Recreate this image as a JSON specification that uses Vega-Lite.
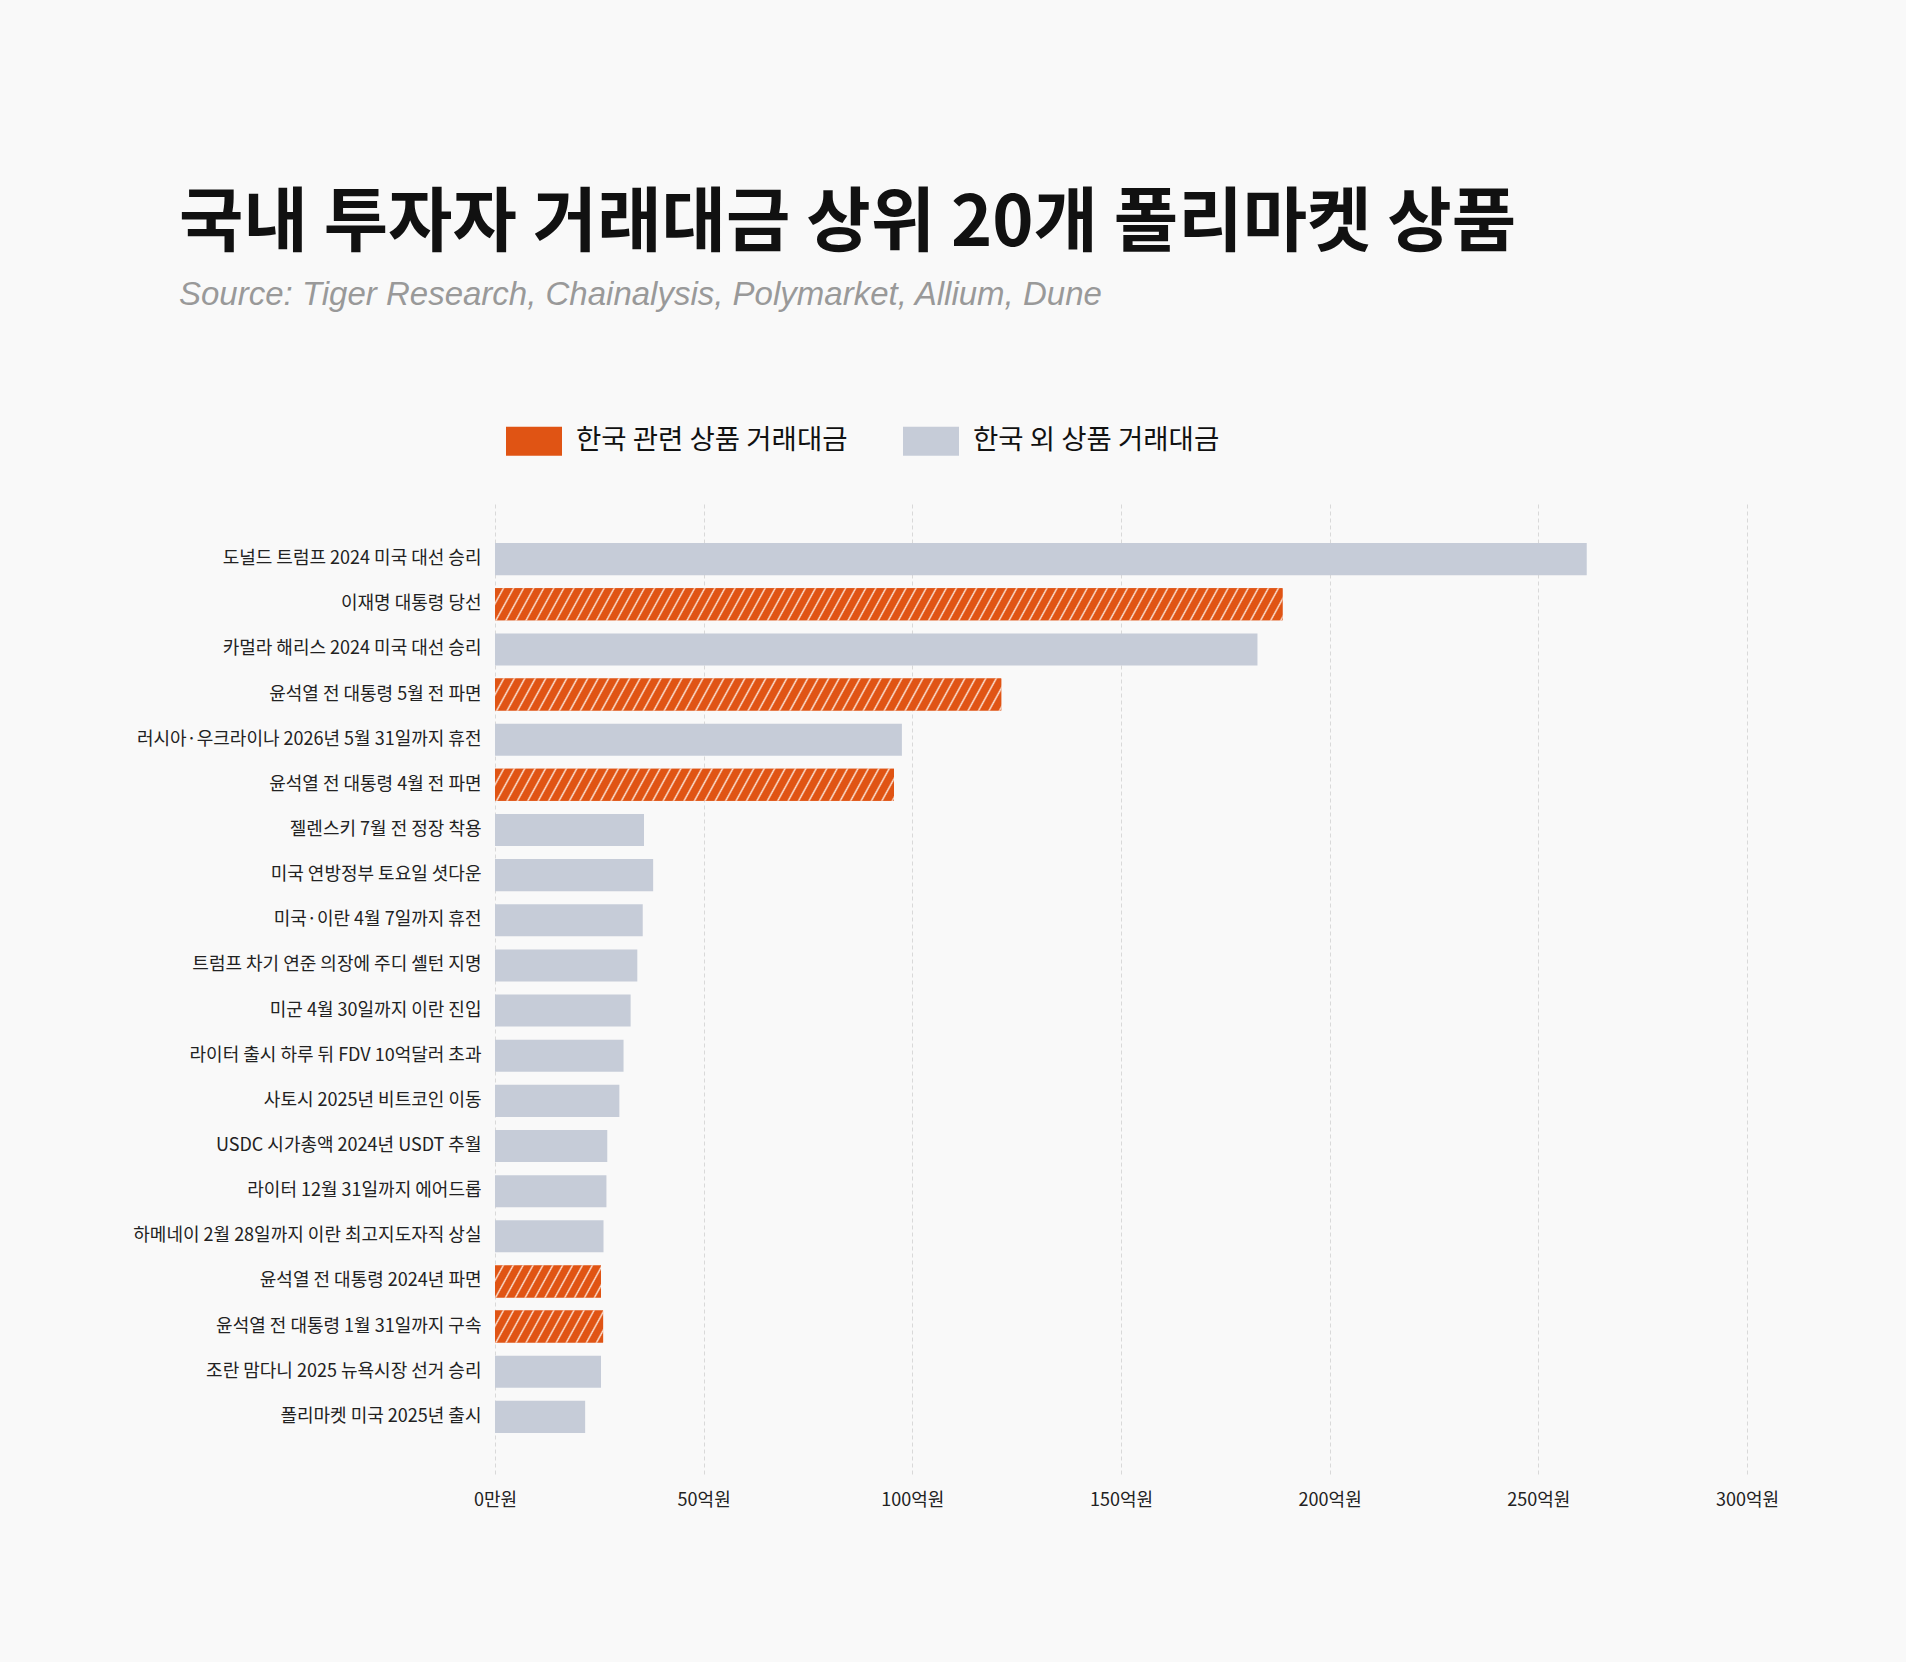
{
  "$schema": "https://vega.github.io/schema/vega-lite/v6.json",
  "width": 1252,
  "height": 972,
  "autosize": "none",
  "padding": {"left": 495, "top": 502, "right": 159, "bottom": 188},
  "background": "#f9f9f9",
  "title": {
    "text": "국내 투자자 거래대금 상위 20개 폴리마켓 상품",
    "subtitle": "Source: Tiger Research, Chainalysis, Polymarket, Allium, Dune",
    "anchor": "start",
    "frame": "group",
    "dx": -316,
    "offset": 100,
    "font": "Noto Sans CJK KR",
    "fontSize": 70,
    "fontWeight": "bold",
    "color": "#111111",
    "subtitleFont": "Liberation Sans",
    "subtitleFontSize": 33,
    "subtitleFontStyle": "italic",
    "subtitleColor": "#999999",
    "subtitlePadding": 18
  },
  "data": {
    "values": [
      {"name": "도널드 트럼프 2024 미국 대선 승리", "value": 261.6, "group": "한국 외 상품 거래대금"},
      {"name": "이재명 대통령 당선", "value": 188.7, "group": "한국 관련 상품 거래대금"},
      {"name": "카멀라 해리스 2024 미국 대선 승리", "value": 182.7, "group": "한국 외 상품 거래대금"},
      {"name": "윤석열 전 대통령 5월 전 파면", "value": 121.3, "group": "한국 관련 상품 거래대금"},
      {"name": "러시아·우크라이나 2026년 5월 31일까지 휴전", "value": 97.5, "group": "한국 외 상품 거래대금"},
      {"name": "윤석열 전 대통령 4월 전 파면", "value": 95.6, "group": "한국 관련 상품 거래대금"},
      {"name": "젤렌스키 7월 전 정장 착용", "value": 35.7, "group": "한국 외 상품 거래대금"},
      {"name": "미국 연방정부 토요일 셧다운", "value": 37.9, "group": "한국 외 상품 거래대금"},
      {"name": "미국·이란 4월 7일까지 휴전", "value": 35.4, "group": "한국 외 상품 거래대금"},
      {"name": "트럼프 차기 연준 의장에 주디 셸턴 지명", "value": 34.1, "group": "한국 외 상품 거래대금"},
      {"name": "미군 4월 30일까지 이란 진입", "value": 32.5, "group": "한국 외 상품 거래대금"},
      {"name": "라이터 출시 하루 뒤 FDV 10억달러 초과", "value": 30.8, "group": "한국 외 상품 거래대금"},
      {"name": "사토시 2025년 비트코인 이동", "value": 29.8, "group": "한국 외 상품 거래대금"},
      {"name": "USDC 시가총액 2024년 USDT 추월", "value": 26.9, "group": "한국 외 상품 거래대금"},
      {"name": "라이터 12월 31일까지 에어드롭", "value": 26.7, "group": "한국 외 상품 거래대금"},
      {"name": "하메네이 2월 28일까지 이란 최고지도자직 상실", "value": 26.0, "group": "한국 외 상품 거래대금"},
      {"name": "윤석열 전 대통령 2024년 파면", "value": 25.4, "group": "한국 관련 상품 거래대금"},
      {"name": "윤석열 전 대통령 1월 31일까지 구속", "value": 25.9, "group": "한국 관련 상품 거래대금"},
      {"name": "조란 맘다니 2025 뉴욕시장 선거 승리", "value": 25.4, "group": "한국 외 상품 거래대금"},
      {"name": "폴리마켓 미국 2025년 출시", "value": 21.6, "group": "한국 외 상품 거래대금"}
    ]
  },
  "encoding": {
    "y": {
      "field": "name",
      "type": "nominal",
      "sort": null,
      "scale": {"paddingInner": 0.29, "paddingOuter": 0.91},
      "axis": {
        "title": null,
        "domain": false,
        "ticks": false,
        "labelPadding": 14,
        "labelFont": "Noto Sans CJK KR",
        "labelFontSize": 18,
        "labelColor": "#222222",
        "labelLimit": 0
      }
    },
    "x": {
      "field": "value",
      "type": "quantitative",
      "scale": {"domain": [0, 300], "nice": false},
      "axis": {
        "title": null,
        "values": [0, 50, 100, 150, 200, 250, 300],
        "labelExpr": "datum.value == 0 ? '0만원' : datum.value + '억원'",
        "labelFlush": false,
        "domain": false,
        "ticks": false,
        "grid": true,
        "gridColor": "#d9d9d9",
        "gridDash": [4, 3],
        "gridWidth": 1,
        "labelPadding": 17,
        "labelFont": "Noto Sans CJK KR",
        "labelFontSize": 18,
        "labelColor": "#222222"
      }
    }
  },
  "layer": [
    {
      "mark": {"type": "bar"},
      "encoding": {
        "color": {
          "field": "group",
          "type": "nominal",
          "scale": {
            "domain": ["한국 관련 상품 거래대금", "한국 외 상품 거래대금"],
            "range": ["#e05414", "#c6ccd8"]
          },
          "legend": {
            "title": null,
            "orient": "none",
            "legendX": 11,
            "legendY": -89,
            "direction": "horizontal",
            "symbolType": "M-1,-0.52H1V0.52H-1Z",
            "symbolSize": 3136,
            "symbolStrokeWidth": 0,
            "symbolOpacity": 1,
            "labelFont": "Noto Sans CJK KR",
            "labelFontSize": 27.5,
            "labelColor": "#111111",
            "labelOffset": 14,
            "labelLimit": 0,
            "columnPadding": 55
          }
        }
      }
    },
    {
      "transform": [{"filter": "datum.name == '이재명 대통령 당선'"}],
      "mark": {
        "type": "bar",
        "fill": {
          "gradient": "linear", "x1": 0, "y1": 0, "x2": 1.02184, "y2": 0.02284,
          "stops": [
            {"offset":0,"color":"#e05414"},{"offset":0.0085,"color":"#e05414"},{"offset":0.0105,"color":"#fbe2d4"},
            {"offset":0.0125,"color":"#e05414"},{"offset":0.021,"color":"#e05414"},{"offset":0.023,"color":"#fbe2d4"},
            {"offset":0.025,"color":"#e05414"},{"offset":0.0335,"color":"#e05414"},{"offset":0.0355,"color":"#fbe2d4"},
            {"offset":0.0375,"color":"#e05414"},{"offset":0.046,"color":"#e05414"},{"offset":0.048,"color":"#fbe2d4"},
            {"offset":0.05,"color":"#e05414"},{"offset":0.0585,"color":"#e05414"},{"offset":0.0605,"color":"#fbe2d4"},
            {"offset":0.0625,"color":"#e05414"},{"offset":0.071,"color":"#e05414"},{"offset":0.073,"color":"#fbe2d4"},
            {"offset":0.075,"color":"#e05414"},{"offset":0.0835,"color":"#e05414"},{"offset":0.0855,"color":"#fbe2d4"},
            {"offset":0.0875,"color":"#e05414"},{"offset":0.096,"color":"#e05414"},{"offset":0.098,"color":"#fbe2d4"},
            {"offset":0.1,"color":"#e05414"},{"offset":0.1085,"color":"#e05414"},{"offset":0.1105,"color":"#fbe2d4"},
            {"offset":0.1125,"color":"#e05414"},{"offset":0.121,"color":"#e05414"},{"offset":0.123,"color":"#fbe2d4"},
            {"offset":0.125,"color":"#e05414"},{"offset":0.1335,"color":"#e05414"},{"offset":0.1355,"color":"#fbe2d4"},
            {"offset":0.1375,"color":"#e05414"},{"offset":0.146,"color":"#e05414"},{"offset":0.148,"color":"#fbe2d4"},
            {"offset":0.15,"color":"#e05414"},{"offset":0.1585,"color":"#e05414"},{"offset":0.1605,"color":"#fbe2d4"},
            {"offset":0.1625,"color":"#e05414"},{"offset":0.171,"color":"#e05414"},{"offset":0.173,"color":"#fbe2d4"},
            {"offset":0.175,"color":"#e05414"},{"offset":0.1835,"color":"#e05414"},{"offset":0.1855,"color":"#fbe2d4"},
            {"offset":0.1875,"color":"#e05414"},{"offset":0.196,"color":"#e05414"},{"offset":0.198,"color":"#fbe2d4"},
            {"offset":0.2,"color":"#e05414"},{"offset":0.2085,"color":"#e05414"},{"offset":0.2105,"color":"#fbe2d4"},
            {"offset":0.2125,"color":"#e05414"},{"offset":0.221,"color":"#e05414"},{"offset":0.223,"color":"#fbe2d4"},
            {"offset":0.225,"color":"#e05414"},{"offset":0.2335,"color":"#e05414"},{"offset":0.2355,"color":"#fbe2d4"},
            {"offset":0.2375,"color":"#e05414"},{"offset":0.246,"color":"#e05414"},{"offset":0.248,"color":"#fbe2d4"},
            {"offset":0.25,"color":"#e05414"},{"offset":0.2585,"color":"#e05414"},{"offset":0.2605,"color":"#fbe2d4"},
            {"offset":0.2625,"color":"#e05414"},{"offset":0.271,"color":"#e05414"},{"offset":0.273,"color":"#fbe2d4"},
            {"offset":0.275,"color":"#e05414"},{"offset":0.2835,"color":"#e05414"},{"offset":0.2855,"color":"#fbe2d4"},
            {"offset":0.2875,"color":"#e05414"},{"offset":0.296,"color":"#e05414"},{"offset":0.298,"color":"#fbe2d4"},
            {"offset":0.3,"color":"#e05414"},{"offset":0.3085,"color":"#e05414"},{"offset":0.3105,"color":"#fbe2d4"},
            {"offset":0.3125,"color":"#e05414"},{"offset":0.321,"color":"#e05414"},{"offset":0.323,"color":"#fbe2d4"},
            {"offset":0.325,"color":"#e05414"},{"offset":0.3335,"color":"#e05414"},{"offset":0.3355,"color":"#fbe2d4"},
            {"offset":0.3375,"color":"#e05414"},{"offset":0.346,"color":"#e05414"},{"offset":0.348,"color":"#fbe2d4"},
            {"offset":0.35,"color":"#e05414"},{"offset":0.3585,"color":"#e05414"},{"offset":0.3605,"color":"#fbe2d4"},
            {"offset":0.3625,"color":"#e05414"},{"offset":0.371,"color":"#e05414"},{"offset":0.373,"color":"#fbe2d4"},
            {"offset":0.375,"color":"#e05414"},{"offset":0.3835,"color":"#e05414"},{"offset":0.3855,"color":"#fbe2d4"},
            {"offset":0.3875,"color":"#e05414"},{"offset":0.396,"color":"#e05414"},{"offset":0.398,"color":"#fbe2d4"},
            {"offset":0.4,"color":"#e05414"},{"offset":0.4085,"color":"#e05414"},{"offset":0.4105,"color":"#fbe2d4"},
            {"offset":0.4125,"color":"#e05414"},{"offset":0.421,"color":"#e05414"},{"offset":0.423,"color":"#fbe2d4"},
            {"offset":0.425,"color":"#e05414"},{"offset":0.4335,"color":"#e05414"},{"offset":0.4355,"color":"#fbe2d4"},
            {"offset":0.4375,"color":"#e05414"},{"offset":0.446,"color":"#e05414"},{"offset":0.448,"color":"#fbe2d4"},
            {"offset":0.45,"color":"#e05414"},{"offset":0.4585,"color":"#e05414"},{"offset":0.4605,"color":"#fbe2d4"},
            {"offset":0.4625,"color":"#e05414"},{"offset":0.471,"color":"#e05414"},{"offset":0.473,"color":"#fbe2d4"},
            {"offset":0.475,"color":"#e05414"},{"offset":0.4835,"color":"#e05414"},{"offset":0.4855,"color":"#fbe2d4"},
            {"offset":0.4875,"color":"#e05414"},{"offset":0.496,"color":"#e05414"},{"offset":0.498,"color":"#fbe2d4"},
            {"offset":0.5,"color":"#e05414"},{"offset":0.5085,"color":"#e05414"},{"offset":0.5105,"color":"#fbe2d4"},
            {"offset":0.5125,"color":"#e05414"},{"offset":0.521,"color":"#e05414"},{"offset":0.523,"color":"#fbe2d4"},
            {"offset":0.525,"color":"#e05414"},{"offset":0.5335,"color":"#e05414"},{"offset":0.5355,"color":"#fbe2d4"},
            {"offset":0.5375,"color":"#e05414"},{"offset":0.546,"color":"#e05414"},{"offset":0.548,"color":"#fbe2d4"},
            {"offset":0.55,"color":"#e05414"},{"offset":0.5585,"color":"#e05414"},{"offset":0.5605,"color":"#fbe2d4"},
            {"offset":0.5625,"color":"#e05414"},{"offset":0.571,"color":"#e05414"},{"offset":0.573,"color":"#fbe2d4"},
            {"offset":0.575,"color":"#e05414"},{"offset":0.5835,"color":"#e05414"},{"offset":0.5855,"color":"#fbe2d4"},
            {"offset":0.5875,"color":"#e05414"},{"offset":0.596,"color":"#e05414"},{"offset":0.598,"color":"#fbe2d4"},
            {"offset":0.6,"color":"#e05414"},{"offset":0.6085,"color":"#e05414"},{"offset":0.6105,"color":"#fbe2d4"},
            {"offset":0.6125,"color":"#e05414"},{"offset":0.621,"color":"#e05414"},{"offset":0.623,"color":"#fbe2d4"},
            {"offset":0.625,"color":"#e05414"},{"offset":0.6335,"color":"#e05414"},{"offset":0.6355,"color":"#fbe2d4"},
            {"offset":0.6375,"color":"#e05414"},{"offset":0.646,"color":"#e05414"},{"offset":0.648,"color":"#fbe2d4"},
            {"offset":0.65,"color":"#e05414"},{"offset":0.6585,"color":"#e05414"},{"offset":0.6605,"color":"#fbe2d4"},
            {"offset":0.6625,"color":"#e05414"},{"offset":0.671,"color":"#e05414"},{"offset":0.673,"color":"#fbe2d4"},
            {"offset":0.675,"color":"#e05414"},{"offset":0.6835,"color":"#e05414"},{"offset":0.6855,"color":"#fbe2d4"},
            {"offset":0.6875,"color":"#e05414"},{"offset":0.696,"color":"#e05414"},{"offset":0.698,"color":"#fbe2d4"},
            {"offset":0.7,"color":"#e05414"},{"offset":0.7085,"color":"#e05414"},{"offset":0.7105,"color":"#fbe2d4"},
            {"offset":0.7125,"color":"#e05414"},{"offset":0.721,"color":"#e05414"},{"offset":0.723,"color":"#fbe2d4"},
            {"offset":0.725,"color":"#e05414"},{"offset":0.7335,"color":"#e05414"},{"offset":0.7355,"color":"#fbe2d4"},
            {"offset":0.7375,"color":"#e05414"},{"offset":0.746,"color":"#e05414"},{"offset":0.748,"color":"#fbe2d4"},
            {"offset":0.75,"color":"#e05414"},{"offset":0.7585,"color":"#e05414"},{"offset":0.7605,"color":"#fbe2d4"},
            {"offset":0.7625,"color":"#e05414"},{"offset":0.771,"color":"#e05414"},{"offset":0.773,"color":"#fbe2d4"},
            {"offset":0.775,"color":"#e05414"},{"offset":0.7835,"color":"#e05414"},{"offset":0.7855,"color":"#fbe2d4"},
            {"offset":0.7875,"color":"#e05414"},{"offset":0.796,"color":"#e05414"},{"offset":0.798,"color":"#fbe2d4"},
            {"offset":0.8,"color":"#e05414"},{"offset":0.8085,"color":"#e05414"},{"offset":0.8105,"color":"#fbe2d4"},
            {"offset":0.8125,"color":"#e05414"},{"offset":0.821,"color":"#e05414"},{"offset":0.823,"color":"#fbe2d4"},
            {"offset":0.825,"color":"#e05414"},{"offset":0.8335,"color":"#e05414"},{"offset":0.8355,"color":"#fbe2d4"},
            {"offset":0.8375,"color":"#e05414"},{"offset":0.846,"color":"#e05414"},{"offset":0.848,"color":"#fbe2d4"},
            {"offset":0.85,"color":"#e05414"},{"offset":0.8585,"color":"#e05414"},{"offset":0.8605,"color":"#fbe2d4"},
            {"offset":0.8625,"color":"#e05414"},{"offset":0.871,"color":"#e05414"},{"offset":0.873,"color":"#fbe2d4"},
            {"offset":0.875,"color":"#e05414"},{"offset":0.8835,"color":"#e05414"},{"offset":0.8855,"color":"#fbe2d4"},
            {"offset":0.8875,"color":"#e05414"},{"offset":0.896,"color":"#e05414"},{"offset":0.898,"color":"#fbe2d4"},
            {"offset":0.9,"color":"#e05414"},{"offset":0.9085,"color":"#e05414"},{"offset":0.9105,"color":"#fbe2d4"},
            {"offset":0.9125,"color":"#e05414"},{"offset":0.921,"color":"#e05414"},{"offset":0.923,"color":"#fbe2d4"},
            {"offset":0.925,"color":"#e05414"},{"offset":0.9335,"color":"#e05414"},{"offset":0.9355,"color":"#fbe2d4"},
            {"offset":0.9375,"color":"#e05414"},{"offset":0.946,"color":"#e05414"},{"offset":0.948,"color":"#fbe2d4"},
            {"offset":0.95,"color":"#e05414"},{"offset":0.9585,"color":"#e05414"},{"offset":0.9605,"color":"#fbe2d4"},
            {"offset":0.9625,"color":"#e05414"},{"offset":0.971,"color":"#e05414"},{"offset":0.973,"color":"#fbe2d4"},
            {"offset":0.975,"color":"#e05414"},{"offset":0.9835,"color":"#e05414"},{"offset":0.9855,"color":"#fbe2d4"},
            {"offset":0.9875,"color":"#e05414"},{"offset":0.996,"color":"#e05414"},{"offset":0.998,"color":"#fbe2d4"},
            {"offset":1,"color":"#e05414"}
          ]
        }
      }
    },
    {
      "transform": [{"filter": "datum.name == '윤석열 전 대통령 5월 전 파면'"}],
      "mark": {
        "type": "bar",
        "fill": {
          "gradient": "linear", "x1": 0, "y1": 0, "x2": 1.03352, "y2": 0.03593,
          "stops": [
            {"offset":0,"color":"#e05414"},{"offset":0.0136,"color":"#e05414"},{"offset":0.0168,"color":"#fbe2d4"},
            {"offset":0.02,"color":"#e05414"},{"offset":0.0336,"color":"#e05414"},{"offset":0.0368,"color":"#fbe2d4"},
            {"offset":0.04,"color":"#e05414"},{"offset":0.0536,"color":"#e05414"},{"offset":0.0568,"color":"#fbe2d4"},
            {"offset":0.06,"color":"#e05414"},{"offset":0.0736,"color":"#e05414"},{"offset":0.0768,"color":"#fbe2d4"},
            {"offset":0.08,"color":"#e05414"},{"offset":0.0936,"color":"#e05414"},{"offset":0.0968,"color":"#fbe2d4"},
            {"offset":0.1,"color":"#e05414"},{"offset":0.1136,"color":"#e05414"},{"offset":0.1168,"color":"#fbe2d4"},
            {"offset":0.12,"color":"#e05414"},{"offset":0.1336,"color":"#e05414"},{"offset":0.1368,"color":"#fbe2d4"},
            {"offset":0.14,"color":"#e05414"},{"offset":0.1536,"color":"#e05414"},{"offset":0.1568,"color":"#fbe2d4"},
            {"offset":0.16,"color":"#e05414"},{"offset":0.1736,"color":"#e05414"},{"offset":0.1768,"color":"#fbe2d4"},
            {"offset":0.18,"color":"#e05414"},{"offset":0.1936,"color":"#e05414"},{"offset":0.1968,"color":"#fbe2d4"},
            {"offset":0.2,"color":"#e05414"},{"offset":0.2136,"color":"#e05414"},{"offset":0.2168,"color":"#fbe2d4"},
            {"offset":0.22,"color":"#e05414"},{"offset":0.2336,"color":"#e05414"},{"offset":0.2368,"color":"#fbe2d4"},
            {"offset":0.24,"color":"#e05414"},{"offset":0.2536,"color":"#e05414"},{"offset":0.2568,"color":"#fbe2d4"},
            {"offset":0.26,"color":"#e05414"},{"offset":0.2736,"color":"#e05414"},{"offset":0.2768,"color":"#fbe2d4"},
            {"offset":0.28,"color":"#e05414"},{"offset":0.2936,"color":"#e05414"},{"offset":0.2968,"color":"#fbe2d4"},
            {"offset":0.3,"color":"#e05414"},{"offset":0.3136,"color":"#e05414"},{"offset":0.3168,"color":"#fbe2d4"},
            {"offset":0.32,"color":"#e05414"},{"offset":0.3336,"color":"#e05414"},{"offset":0.3368,"color":"#fbe2d4"},
            {"offset":0.34,"color":"#e05414"},{"offset":0.3536,"color":"#e05414"},{"offset":0.3568,"color":"#fbe2d4"},
            {"offset":0.36,"color":"#e05414"},{"offset":0.3736,"color":"#e05414"},{"offset":0.3768,"color":"#fbe2d4"},
            {"offset":0.38,"color":"#e05414"},{"offset":0.3936,"color":"#e05414"},{"offset":0.3968,"color":"#fbe2d4"},
            {"offset":0.4,"color":"#e05414"},{"offset":0.4136,"color":"#e05414"},{"offset":0.4168,"color":"#fbe2d4"},
            {"offset":0.42,"color":"#e05414"},{"offset":0.4336,"color":"#e05414"},{"offset":0.4368,"color":"#fbe2d4"},
            {"offset":0.44,"color":"#e05414"},{"offset":0.4536,"color":"#e05414"},{"offset":0.4568,"color":"#fbe2d4"},
            {"offset":0.46,"color":"#e05414"},{"offset":0.4736,"color":"#e05414"},{"offset":0.4768,"color":"#fbe2d4"},
            {"offset":0.48,"color":"#e05414"},{"offset":0.4936,"color":"#e05414"},{"offset":0.4968,"color":"#fbe2d4"},
            {"offset":0.5,"color":"#e05414"},{"offset":0.5136,"color":"#e05414"},{"offset":0.5168,"color":"#fbe2d4"},
            {"offset":0.52,"color":"#e05414"},{"offset":0.5336,"color":"#e05414"},{"offset":0.5368,"color":"#fbe2d4"},
            {"offset":0.54,"color":"#e05414"},{"offset":0.5536,"color":"#e05414"},{"offset":0.5568,"color":"#fbe2d4"},
            {"offset":0.56,"color":"#e05414"},{"offset":0.5736,"color":"#e05414"},{"offset":0.5768,"color":"#fbe2d4"},
            {"offset":0.58,"color":"#e05414"},{"offset":0.5936,"color":"#e05414"},{"offset":0.5968,"color":"#fbe2d4"},
            {"offset":0.6,"color":"#e05414"},{"offset":0.6136,"color":"#e05414"},{"offset":0.6168,"color":"#fbe2d4"},
            {"offset":0.62,"color":"#e05414"},{"offset":0.6336,"color":"#e05414"},{"offset":0.6368,"color":"#fbe2d4"},
            {"offset":0.64,"color":"#e05414"},{"offset":0.6536,"color":"#e05414"},{"offset":0.6568,"color":"#fbe2d4"},
            {"offset":0.66,"color":"#e05414"},{"offset":0.6736,"color":"#e05414"},{"offset":0.6768,"color":"#fbe2d4"},
            {"offset":0.68,"color":"#e05414"},{"offset":0.6936,"color":"#e05414"},{"offset":0.6968,"color":"#fbe2d4"},
            {"offset":0.7,"color":"#e05414"},{"offset":0.7136,"color":"#e05414"},{"offset":0.7168,"color":"#fbe2d4"},
            {"offset":0.72,"color":"#e05414"},{"offset":0.7336,"color":"#e05414"},{"offset":0.7368,"color":"#fbe2d4"},
            {"offset":0.74,"color":"#e05414"},{"offset":0.7536,"color":"#e05414"},{"offset":0.7568,"color":"#fbe2d4"},
            {"offset":0.76,"color":"#e05414"},{"offset":0.7736,"color":"#e05414"},{"offset":0.7768,"color":"#fbe2d4"},
            {"offset":0.78,"color":"#e05414"},{"offset":0.7936,"color":"#e05414"},{"offset":0.7968,"color":"#fbe2d4"},
            {"offset":0.8,"color":"#e05414"},{"offset":0.8136,"color":"#e05414"},{"offset":0.8168,"color":"#fbe2d4"},
            {"offset":0.82,"color":"#e05414"},{"offset":0.8336,"color":"#e05414"},{"offset":0.8368,"color":"#fbe2d4"},
            {"offset":0.84,"color":"#e05414"},{"offset":0.8536,"color":"#e05414"},{"offset":0.8568,"color":"#fbe2d4"},
            {"offset":0.86,"color":"#e05414"},{"offset":0.8736,"color":"#e05414"},{"offset":0.8768,"color":"#fbe2d4"},
            {"offset":0.88,"color":"#e05414"},{"offset":0.8936,"color":"#e05414"},{"offset":0.8968,"color":"#fbe2d4"},
            {"offset":0.9,"color":"#e05414"},{"offset":0.9136,"color":"#e05414"},{"offset":0.9168,"color":"#fbe2d4"},
            {"offset":0.92,"color":"#e05414"},{"offset":0.9336,"color":"#e05414"},{"offset":0.9368,"color":"#fbe2d4"},
            {"offset":0.94,"color":"#e05414"},{"offset":0.9536,"color":"#e05414"},{"offset":0.9568,"color":"#fbe2d4"},
            {"offset":0.96,"color":"#e05414"},{"offset":0.9736,"color":"#e05414"},{"offset":0.9768,"color":"#fbe2d4"},
            {"offset":0.98,"color":"#e05414"},{"offset":0.9936,"color":"#e05414"},{"offset":0.9968,"color":"#fbe2d4"},
            {"offset":1,"color":"#e05414"}
          ]
        }
      }
    },
    {
      "transform": [{"filter": "datum.name == '윤석열 전 대통령 4월 전 파면'"}],
      "mark": {
        "type": "bar",
        "fill": {
          "gradient": "linear", "x1": 0, "y1": 0, "x2": 1.04208, "y2": 0.04597,
          "stops": [
            {"offset":0,"color":"#e05414"},{"offset":0.017,"color":"#e05414"},{"offset":0.021,"color":"#fbe2d4"},
            {"offset":0.025,"color":"#e05414"},{"offset":0.042,"color":"#e05414"},{"offset":0.046,"color":"#fbe2d4"},
            {"offset":0.05,"color":"#e05414"},{"offset":0.067,"color":"#e05414"},{"offset":0.071,"color":"#fbe2d4"},
            {"offset":0.075,"color":"#e05414"},{"offset":0.092,"color":"#e05414"},{"offset":0.096,"color":"#fbe2d4"},
            {"offset":0.1,"color":"#e05414"},{"offset":0.117,"color":"#e05414"},{"offset":0.121,"color":"#fbe2d4"},
            {"offset":0.125,"color":"#e05414"},{"offset":0.142,"color":"#e05414"},{"offset":0.146,"color":"#fbe2d4"},
            {"offset":0.15,"color":"#e05414"},{"offset":0.167,"color":"#e05414"},{"offset":0.171,"color":"#fbe2d4"},
            {"offset":0.175,"color":"#e05414"},{"offset":0.192,"color":"#e05414"},{"offset":0.196,"color":"#fbe2d4"},
            {"offset":0.2,"color":"#e05414"},{"offset":0.217,"color":"#e05414"},{"offset":0.221,"color":"#fbe2d4"},
            {"offset":0.225,"color":"#e05414"},{"offset":0.242,"color":"#e05414"},{"offset":0.246,"color":"#fbe2d4"},
            {"offset":0.25,"color":"#e05414"},{"offset":0.267,"color":"#e05414"},{"offset":0.271,"color":"#fbe2d4"},
            {"offset":0.275,"color":"#e05414"},{"offset":0.292,"color":"#e05414"},{"offset":0.296,"color":"#fbe2d4"},
            {"offset":0.3,"color":"#e05414"},{"offset":0.317,"color":"#e05414"},{"offset":0.321,"color":"#fbe2d4"},
            {"offset":0.325,"color":"#e05414"},{"offset":0.342,"color":"#e05414"},{"offset":0.346,"color":"#fbe2d4"},
            {"offset":0.35,"color":"#e05414"},{"offset":0.367,"color":"#e05414"},{"offset":0.371,"color":"#fbe2d4"},
            {"offset":0.375,"color":"#e05414"},{"offset":0.392,"color":"#e05414"},{"offset":0.396,"color":"#fbe2d4"},
            {"offset":0.4,"color":"#e05414"},{"offset":0.417,"color":"#e05414"},{"offset":0.421,"color":"#fbe2d4"},
            {"offset":0.425,"color":"#e05414"},{"offset":0.442,"color":"#e05414"},{"offset":0.446,"color":"#fbe2d4"},
            {"offset":0.45,"color":"#e05414"},{"offset":0.467,"color":"#e05414"},{"offset":0.471,"color":"#fbe2d4"},
            {"offset":0.475,"color":"#e05414"},{"offset":0.492,"color":"#e05414"},{"offset":0.496,"color":"#fbe2d4"},
            {"offset":0.5,"color":"#e05414"},{"offset":0.517,"color":"#e05414"},{"offset":0.521,"color":"#fbe2d4"},
            {"offset":0.525,"color":"#e05414"},{"offset":0.542,"color":"#e05414"},{"offset":0.546,"color":"#fbe2d4"},
            {"offset":0.55,"color":"#e05414"},{"offset":0.567,"color":"#e05414"},{"offset":0.571,"color":"#fbe2d4"},
            {"offset":0.575,"color":"#e05414"},{"offset":0.592,"color":"#e05414"},{"offset":0.596,"color":"#fbe2d4"},
            {"offset":0.6,"color":"#e05414"},{"offset":0.617,"color":"#e05414"},{"offset":0.621,"color":"#fbe2d4"},
            {"offset":0.625,"color":"#e05414"},{"offset":0.642,"color":"#e05414"},{"offset":0.646,"color":"#fbe2d4"},
            {"offset":0.65,"color":"#e05414"},{"offset":0.667,"color":"#e05414"},{"offset":0.671,"color":"#fbe2d4"},
            {"offset":0.675,"color":"#e05414"},{"offset":0.692,"color":"#e05414"},{"offset":0.696,"color":"#fbe2d4"},
            {"offset":0.7,"color":"#e05414"},{"offset":0.717,"color":"#e05414"},{"offset":0.721,"color":"#fbe2d4"},
            {"offset":0.725,"color":"#e05414"},{"offset":0.742,"color":"#e05414"},{"offset":0.746,"color":"#fbe2d4"},
            {"offset":0.75,"color":"#e05414"},{"offset":0.767,"color":"#e05414"},{"offset":0.771,"color":"#fbe2d4"},
            {"offset":0.775,"color":"#e05414"},{"offset":0.792,"color":"#e05414"},{"offset":0.796,"color":"#fbe2d4"},
            {"offset":0.8,"color":"#e05414"},{"offset":0.817,"color":"#e05414"},{"offset":0.821,"color":"#fbe2d4"},
            {"offset":0.825,"color":"#e05414"},{"offset":0.842,"color":"#e05414"},{"offset":0.846,"color":"#fbe2d4"},
            {"offset":0.85,"color":"#e05414"},{"offset":0.867,"color":"#e05414"},{"offset":0.871,"color":"#fbe2d4"},
            {"offset":0.875,"color":"#e05414"},{"offset":0.892,"color":"#e05414"},{"offset":0.896,"color":"#fbe2d4"},
            {"offset":0.9,"color":"#e05414"},{"offset":0.917,"color":"#e05414"},{"offset":0.921,"color":"#fbe2d4"},
            {"offset":0.925,"color":"#e05414"},{"offset":0.942,"color":"#e05414"},{"offset":0.946,"color":"#fbe2d4"},
            {"offset":0.95,"color":"#e05414"},{"offset":0.967,"color":"#e05414"},{"offset":0.971,"color":"#fbe2d4"},
            {"offset":0.975,"color":"#e05414"},{"offset":0.992,"color":"#e05414"},{"offset":0.996,"color":"#fbe2d4"},
            {"offset":1,"color":"#e05414"}
          ]
        }
      }
    },
    {
      "transform": [{"filter": "datum.name == '윤석열 전 대통령 2024년 파면'"}],
      "mark": {
        "type": "bar",
        "fill": {
          "gradient": "linear", "x1": 0, "y1": 0, "x2": 1.13475, "y2": 0.18842,
          "stops": [
            {"offset":0,"color":"#e05414"},{"offset":0.0544,"color":"#e05414"},{"offset":0.0672,"color":"#fbe2d4"},
            {"offset":0.08,"color":"#e05414"},{"offset":0.1344,"color":"#e05414"},{"offset":0.1472,"color":"#fbe2d4"},
            {"offset":0.16,"color":"#e05414"},{"offset":0.2144,"color":"#e05414"},{"offset":0.2272,"color":"#fbe2d4"},
            {"offset":0.24,"color":"#e05414"},{"offset":0.2944,"color":"#e05414"},{"offset":0.3072,"color":"#fbe2d4"},
            {"offset":0.32,"color":"#e05414"},{"offset":0.3744,"color":"#e05414"},{"offset":0.3872,"color":"#fbe2d4"},
            {"offset":0.4,"color":"#e05414"},{"offset":0.4544,"color":"#e05414"},{"offset":0.4672,"color":"#fbe2d4"},
            {"offset":0.48,"color":"#e05414"},{"offset":0.5344,"color":"#e05414"},{"offset":0.5472,"color":"#fbe2d4"},
            {"offset":0.56,"color":"#e05414"},{"offset":0.6144,"color":"#e05414"},{"offset":0.6272,"color":"#fbe2d4"},
            {"offset":0.64,"color":"#e05414"},{"offset":0.6944,"color":"#e05414"},{"offset":0.7072,"color":"#fbe2d4"},
            {"offset":0.72,"color":"#e05414"},{"offset":0.7744,"color":"#e05414"},{"offset":0.7872,"color":"#fbe2d4"},
            {"offset":0.8,"color":"#e05414"},{"offset":0.8544,"color":"#e05414"},{"offset":0.8672,"color":"#fbe2d4"},
            {"offset":0.88,"color":"#e05414"},{"offset":0.9344,"color":"#e05414"},{"offset":0.9472,"color":"#fbe2d4"},
            {"offset":0.96,"color":"#e05414"},{"offset":1,"color":"#e05414"}
          ]
        }
      }
    },
    {
      "transform": [{"filter": "datum.name == '윤석열 전 대통령 1월 31일까지 구속'"}],
      "mark": {
        "type": "bar",
        "fill": {
          "gradient": "linear", "x1": 0, "y1": 0, "x2": 1.13278, "y2": 0.18443,
          "stops": [
            {"offset":0,"color":"#e05414"},{"offset":0.0544,"color":"#e05414"},{"offset":0.0672,"color":"#fbe2d4"},
            {"offset":0.08,"color":"#e05414"},{"offset":0.1344,"color":"#e05414"},{"offset":0.1472,"color":"#fbe2d4"},
            {"offset":0.16,"color":"#e05414"},{"offset":0.2144,"color":"#e05414"},{"offset":0.2272,"color":"#fbe2d4"},
            {"offset":0.24,"color":"#e05414"},{"offset":0.2944,"color":"#e05414"},{"offset":0.3072,"color":"#fbe2d4"},
            {"offset":0.32,"color":"#e05414"},{"offset":0.3744,"color":"#e05414"},{"offset":0.3872,"color":"#fbe2d4"},
            {"offset":0.4,"color":"#e05414"},{"offset":0.4544,"color":"#e05414"},{"offset":0.4672,"color":"#fbe2d4"},
            {"offset":0.48,"color":"#e05414"},{"offset":0.5344,"color":"#e05414"},{"offset":0.5472,"color":"#fbe2d4"},
            {"offset":0.56,"color":"#e05414"},{"offset":0.6144,"color":"#e05414"},{"offset":0.6272,"color":"#fbe2d4"},
            {"offset":0.64,"color":"#e05414"},{"offset":0.6944,"color":"#e05414"},{"offset":0.7072,"color":"#fbe2d4"},
            {"offset":0.72,"color":"#e05414"},{"offset":0.7744,"color":"#e05414"},{"offset":0.7872,"color":"#fbe2d4"},
            {"offset":0.8,"color":"#e05414"},{"offset":0.8544,"color":"#e05414"},{"offset":0.8672,"color":"#fbe2d4"},
            {"offset":0.88,"color":"#e05414"},{"offset":0.9344,"color":"#e05414"},{"offset":0.9472,"color":"#fbe2d4"},
            {"offset":0.96,"color":"#e05414"},{"offset":1,"color":"#e05414"}
          ]
        }
      }
    }
  ],
  "config": {
    "font": "Noto Sans CJK KR",
    "view": {"stroke": null}
  }
}
